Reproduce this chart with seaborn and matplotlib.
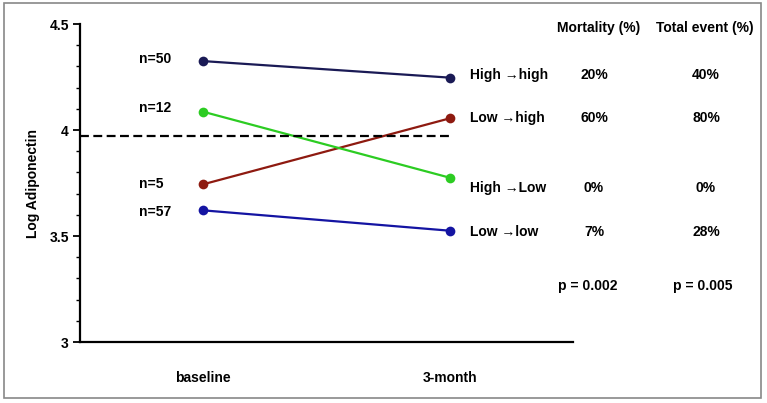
import pandas as pd
import matplotlib
matplotlib.use('Agg')
import matplotlib.pyplot as plt
from matplotlib.patches import Rectangle
from matplotlib.ticker import MultipleLocator
import seaborn as sns

# 数据
timepoints = ['baseline', '3-month']
groups = ['High \u2192high', 'Low \u2192high', 'High \u2192Low', 'Low \u2192low']
baseline_vals = [4.325, 3.744, 4.086, 3.621]
month3_vals = [4.247, 4.055, 3.775, 3.525]
n_labels = ['n=50', 'n=5', 'n=12', 'n=57']
mortality = ['20%', '60%', '0%', '7%']
total_event = ['40%', '80%', '0%', '28%']
p_values = ['p = 0.002', 'p = 0.005']
cutoff = 3.973
colors = ['#1a1a55', '#8e1a10', '#2ccc22', '#1414a2']

sns.set_style('white')
plt.rcParams['font.family'] = ['Liberation Sans', 'DejaVu Sans']
plt.rcParams['font.weight'] = 'bold'
for k in ['text.color', 'axes.labelcolor', 'xtick.color', 'ytick.color']:
    plt.rcParams[k] = 'black'

rows = []
for g, b, m in zip(groups, baseline_vals, month3_vals):
    rows.append({'group': g, 'x': 0, 'value': b})
    rows.append({'group': g, 'x': 1, 'value': m})
df = pd.DataFrame(rows)

fig = plt.figure(figsize=(7.67, 4.03), dpi=100)
ax = fig.add_axes([80 / 767, 1 - 342 / 403, (573 - 80) / 767, (342 - 24) / 403])

sns.lineplot(data=df, x='x', y='value', hue='group', palette=dict(zip(groups, colors)),
             marker='o', markersize=7, markeredgewidth=0, linewidth=1.6, legend=False, ax=ax)
ax.plot([-0.5, 1.0], [cutoff, cutoff], color='black', lw=1.6, ls=(0, (4, 2)))

ax.set_xlim(-0.5, 1.5)
ax.set_ylim(3, 4.5)
ax.set_xticks([0, 1])
ax.set_xticklabels(timepoints, fontsize=10, fontweight='bold')
ax.tick_params(axis='x', length=0, pad=21)
ax.yaxis.set_major_locator(MultipleLocator(0.5))
ax.yaxis.set_minor_locator(MultipleLocator(0.1))
ax.set_yticks([3, 3.5, 4, 4.5])
ax.set_yticklabels(['3', '3.5', '4', '4.5'], fontsize=10, fontweight='bold')
ax.tick_params(axis='y', which='major', direction='out', length=5, width=1.3, left=True, pad=3)
ax.tick_params(axis='y', which='minor', direction='out', length=3, width=1.0, left=True)
ax.set_xlabel('')
ax.set_ylabel('Log Adiponectin', fontsize=10, fontweight='bold', labelpad=7)
for s in ['top', 'right']:
    ax.spines[s].set_visible(False)
for s in ['left', 'bottom']:
    ax.spines[s].set_color('black')
    ax.spines[s].set_linewidth(1.6)

# n 标签
n_dy = [1.5, 0, 2.5, -1]
for lab, v, dy in zip(n_labels, baseline_vals, n_dy):
    ax.annotate(lab, (0, v), xytext=(-46, dy), textcoords='offset points',
                ha='left', va='center', fontsize=10, fontweight='bold')

# 右侧表格
def fx(px):
    return px / 767

def fy(py):
    return 1 - py / 403

row_y = [75, 118, 188, 232]
fig.text(fx(599), fy(28), 'Mortality (%)', ha='center', va='center', fontsize=10, fontweight='bold')
fig.text(fx(705), fy(28), 'Total event (%)', ha='center', va='center', fontsize=10, fontweight='bold')
for g, mo, te, y in zip(groups, mortality, total_event, row_y):
    fig.text(fx(470), fy(y), g, ha='left', va='center', fontsize=10, fontweight='bold')
    fig.text(fx(594), fy(y), mo, ha='center', va='center', fontsize=10, fontweight='bold')
    fig.text(fx(706), fy(y), te, ha='center', va='center', fontsize=10, fontweight='bold')
fig.text(fx(588), fy(286), p_values[0], ha='center', va='center', fontsize=10, fontweight='bold')
fig.text(fx(703), fy(286), p_values[1], ha='center', va='center', fontsize=10, fontweight='bold')

fig.patches.append(Rectangle((4 / 767, 1 - 398 / 403), 757 / 767, 395 / 403, transform=fig.transFigure,
                             fill=False, edgecolor='#888888', linewidth=1.2))

fig.savefig('out.png', dpi=100)
